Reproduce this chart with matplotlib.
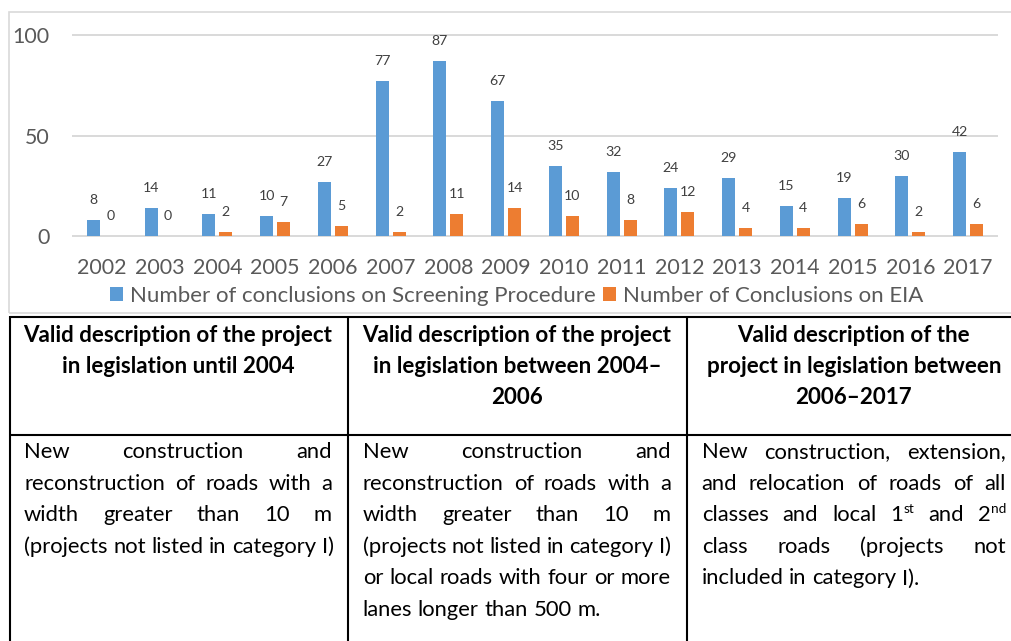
import matplotlib
matplotlib.use("Agg")
import matplotlib.pyplot as plt
from matplotlib.patches import Rectangle
from matplotlib.lines import Line2D
import numpy as np

# ---- data -------------------------------------------------------------
years = [str(y) for y in range(2002, 2018)]
screening = [8, 14, 11, 10, 27, 77, 87, 67, 35, 32, 24, 29, 15, 19, 30, 42]
eia = [0, 0, 2, 7, 5, 2, 11, 14, 10, 8, 12, 4, 4, 6, 2, 6]
series_names = ["Number of conclusions on Screening Procedure",
                "Number of Conclusions on EIA"]
y_ticks = [0, 50, 100]

header_lines = [
    ["Valid description of the project", "in legislation until 2004"],
    ["Valid description of the project", "in legislation between 2004\u2013", "2006"],
    ["Valid description of the", "project in legislation between", "2006\u20132017"],
]
# "^" marks a superscript suffix inside a word
body_lines = [
    ["New construction and",
     "reconstruction of roads with a",
     "width greater than 10 m",
     "(projects not listed in category I)"],
    ["New construction and",
     "reconstruction of roads with a",
     "width greater than 10 m",
     "(projects not listed in category I)",
     "or local roads with four or more",
     "lanes longer than 500 m."],
    ["New construction, extension,",
     "and relocation of roads of all",
     "classes and local 1^st and 2^nd",
     "class roads (projects not",
     "included in category I)."],
]

# ---- styling ----------------------------------------------------------
FONT = "Lato"
BLUE = "#5B9BD5"
ORANGE = "#ED7D31"
AXIS_TXT = "#595959"
LABEL_TXT = "#404040"
GRID = "#D9D9D9"

W, H = 1011, 641
plt.rcParams["font.family"] = [FONT, "DejaVu Sans"]

fig = plt.figure(figsize=(W / 100, H / 100), dpi=100)


def fx(px):
    return px / W


def fy(py):
    return 1 - py / H


# ---- chart ------------------------------------------------------------
ax = fig.add_axes([fx(73), fy(236), fx(997) - fx(73), fy(35) - fy(236)])
x = np.arange(len(years))
off, bw = 0.147, 0.225
b1 = ax.bar(x - off, screening, bw, color=BLUE, label=series_names[0], zorder=2)
b2 = ax.bar(x + off, eia, bw, color=ORANGE, label=series_names[1], zorder=2)

ax.set_xlim(-0.5, len(years) - 0.5)
ax.set_ylim(0, 100)
ax.set_yticks(y_ticks)
ax.set_xticks(x)
ax.set_xticklabels(years)
for t in y_ticks:
    ax.axhline(t, color=GRID, lw=1.4, clip_on=False, zorder=0)
for s in ax.spines.values():
    s.set_visible(False)
ax.tick_params(axis="both", length=0, labelsize=15.4, labelcolor=AXIS_TXT)
ax.tick_params(axis="x", pad=16)
ax.tick_params(axis="y", pad=17)

for bars, vals in ((b1, screening), (b2, eia)):
    for rect, v in zip(bars, vals):
        ax.annotate(str(v), (rect.get_x() + rect.get_width() / 2, v),
                    xytext=(0, 11.5), textcoords="offset points",
                    ha="center", va="baseline", fontsize=10.2,
                    color=LABEL_TXT, annotation_clip=False)

fig.legend(handles=[b1, b2], loc="center",
           bbox_to_anchor=(fx(516.5), fy(296)), ncol=2, frameon=False,
           fontsize=16, labelcolor=AXIS_TXT, handlelength=0.6,
           handleheight=0.6, handletextpad=0.3, columnspacing=0.35,
           borderpad=0, borderaxespad=0)

fig.add_artist(Rectangle((fx(9), fy(313)), fx(1040) - fx(9), fy(12) - fy(313),
                         transform=fig.transFigure, fill=False,
                         ec=GRID, lw=1.2))

# ---- table ------------------------------------------------------------
LW = 1.5
for yy in (317, 435):
    fig.add_artist(Line2D([fx(10), fx(1011)], [fy(yy), fy(yy)], color="black",
                          lw=LW, transform=fig.transFigure,
                          solid_capstyle="butt"))
for xx in (10, 348, 687):
    fig.add_artist(Line2D([fx(xx), fx(xx)], [fy(316.3), fy(641)], color="black",
                          lw=LW, transform=fig.transFigure,
                          solid_capstyle="butt"))

BODY_SIZE = 15.8
HEAD_SIZE = 16.1
renderer = fig.canvas.get_renderer()


def measure(s, size, weight="normal"):
    t = fig.text(0, 0, s, fontsize=size, fontweight=weight)
    w = t.get_window_extent(renderer).width
    t.remove()
    return w


def word_pieces(word, size):
    if "^" in word:
        base, sup = word.split("^")
        return [(base, size, 0.0), (sup, size * 0.62, size * 0.38 * 100 / 72)]
    return [(word, size, 0.0)]


col_left = [24, 362.7, 701.7]
col_right = [332, 671, 1006]

# headers
for c, lines in enumerate(header_lines):
    cx = (col_left[c] + col_right[c]) / 2
    for k, line in enumerate(lines):
        fig.text(fx(cx), fy(341.5 + 31.3 * k), line, fontsize=HEAD_SIZE,
                 fontweight="bold", ha="center", va="baseline", color="black")

# justified body paragraphs
space_w = measure("n n", BODY_SIZE) - 2 * measure("n", BODY_SIZE)
for c, lines in enumerate(body_lines):
    width = col_right[c] - col_left[c]
    for k, line in enumerate(lines):
        words = line.split(" ")
        pieces = [word_pieces(w, BODY_SIZE) for w in words]
        widths = [sum(measure(p[0], p[1]) for p in ps) for ps in pieces]
        last = k == len(lines) - 1
        if not last and len(words) > 1:
            gap = (width - sum(widths)) / (len(words) - 1)
        else:
            gap = space_w
        xcur = col_left[c]
        base_y = 458 + 31.6 * k
        for ps, wd in zip(pieces, widths):
            xp = xcur
            for text, size, rise in ps:
                fig.text(fx(xp), fy(base_y - rise), text, fontsize=size,
                         ha="left", va="baseline", color="black")
                xp += measure(text, size)
            xcur += wd + gap

fig.savefig("out.png", dpi=100)
